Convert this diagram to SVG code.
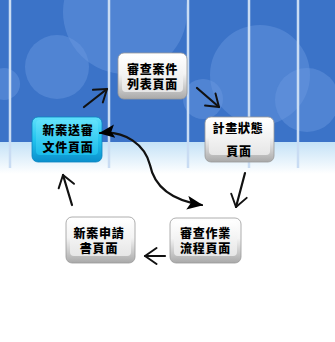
<svg xmlns="http://www.w3.org/2000/svg" width="335" height="342" viewBox="0 0 335 342">
<defs>
<linearGradient id="fade" x1="0" y1="0" x2="0" y2="1">
<stop offset="0" stop-color="#c4e2f7"/>
<stop offset="1" stop-color="#ffffff"/>
</linearGradient>
<linearGradient id="gray" x1="0" y1="0" x2="0" y2="1">
<stop offset="0" stop-color="#ffffff"/>
<stop offset="0.45" stop-color="#f4f4f4"/>
<stop offset="1" stop-color="#a9a9a9"/>
</linearGradient>
<linearGradient id="grayface" x1="0" y1="0" x2="0" y2="1">
<stop offset="0" stop-color="#ffffff"/>
<stop offset="1" stop-color="#e6e6e6"/>
</linearGradient>
<linearGradient id="cyan" x1="0" y1="0" x2="0" y2="1">
<stop offset="0" stop-color="#5fe0fb"/>
<stop offset="0.5" stop-color="#22c4ef"/>
<stop offset="1" stop-color="#0a8fcc"/>
</linearGradient>
<linearGradient id="cyanface" x1="0" y1="0" x2="0" y2="1">
<stop offset="0" stop-color="#62e2fc"/>
<stop offset="1" stop-color="#1bbcea"/>
</linearGradient>
<marker id="open" viewBox="0 0 18 22" refX="16" refY="11" markerWidth="16" markerHeight="20" markerUnits="userSpaceOnUse" orient="auto">
<path d="M3,2 L16,11 L3,20" fill="none" stroke="#111" stroke-width="2.2" stroke-linecap="round" stroke-linejoin="round"/>
</marker>
<marker id="solid" viewBox="0 0 14 12" refX="13" refY="6" markerWidth="16" markerHeight="14" markerUnits="userSpaceOnUse" orient="auto-start-reverse">
<path d="M0,0 L14,6 L0,12 L3,6 Z" fill="#000"/>
</marker>
</defs>
<style>
.btn{stroke:#9a9a9a;stroke-width:0.8}
.lbl{font-family:"Noto Sans CJK TC","Noto Sans CJK SC",sans-serif;font-weight:900;font-size:12px;fill:#000;text-anchor:middle;letter-spacing:0.8px}
.vl{stroke:#c9dcf3;stroke-width:2.5}
.conn{fill:none;stroke:#111;stroke-width:2.2;stroke-linecap:round}
</style>
<!-- background -->
<rect x="0" y="0" width="335" height="342" fill="#ffffff"/>
<rect x="0" y="0" width="335" height="142" fill="#3b73c8"/>
<g fill="#6a9ae0" fill-opacity="0.45">
<circle cx="125" cy="12" r="62"/>
<circle cx="57" cy="67" r="32"/>
<circle cx="4" cy="84" r="16"/>
<circle cx="203" cy="99" r="20"/>
<circle cx="260" cy="75" r="50"/>
<circle cx="307" cy="100" r="32"/>
</g>
<rect x="0" y="142" width="335" height="32" fill="url(#fade)"/>
<g class="vl">
<line x1="10" y1="0" x2="10" y2="168"/>
<line x1="109" y1="0" x2="109" y2="168"/>
<line x1="188" y1="0" x2="188" y2="168"/>
<line x1="249" y1="0" x2="249" y2="168"/>
<line x1="298" y1="0" x2="298" y2="168"/>
</g>
<!-- nodes -->
<g id="n1">
<rect class="btn" x="118" y="53" width="69" height="46" rx="6" fill="url(#gray)"/>
<rect x="122" y="56" width="61" height="36" rx="4" fill="url(#grayface)"/>
<text class="lbl" x="152.5" y="73.5">審查案件</text>
<text class="lbl" x="152.5" y="89">列表頁面</text>
</g>
<g id="n2">
<rect class="btn" x="205" y="117" width="69" height="45" rx="6" fill="url(#gray)"/>
<rect x="209" y="120" width="61" height="35" rx="4" fill="url(#grayface)"/>
<text class="lbl" x="238" y="133">計畫狀態</text>
<text class="lbl" x="239" y="156">頁面</text>
</g>
<g id="n3">
<rect x="32" y="117" width="70" height="45" rx="6" fill="url(#cyan)" stroke="#0a84bf" stroke-width="0.8"/>
<rect x="36" y="120" width="62" height="35" rx="4" fill="url(#cyanface)"/>
<text class="lbl" x="68" y="135">新案送審</text>
<text class="lbl" x="68" y="152">文件頁面</text>
</g>
<g id="n4">
<rect class="btn" x="66" y="217" width="69" height="46" rx="6" fill="url(#gray)"/>
<rect x="70" y="220" width="61" height="36" rx="4" fill="url(#grayface)"/>
<text class="lbl" x="99" y="237.5">新案申請</text>
<text class="lbl" x="99" y="253">書頁面</text>
</g>
<g id="n5">
<rect class="btn" x="170" y="218" width="71" height="45" rx="6" fill="url(#gray)"/>
<rect x="174" y="221" width="63" height="35" rx="4" fill="url(#grayface)"/>
<text class="lbl" x="205.5" y="237.5">審查作業</text>
<text class="lbl" x="205.5" y="253">流程頁面</text>
</g>
<!-- connectors -->
<g id="connectors">
<path class="conn" d="M84,107 L107,89" marker-end="url(#open)"/>
<path class="conn" d="M197,88 L219,107" marker-end="url(#open)"/>
<path class="conn" d="M245,173 L236,207" marker-end="url(#open)"/>
<path class="conn" d="M165,256 L145,256" marker-end="url(#open)"/>
<path class="conn" d="M72,205 L63,175" marker-end="url(#open)"/>
<path class="conn" d="M100,133 C125,130 145,145 150,165 C154,185 170,200 202,205" marker-start="url(#solid)" marker-end="url(#solid)"/>
</g>
</svg>
